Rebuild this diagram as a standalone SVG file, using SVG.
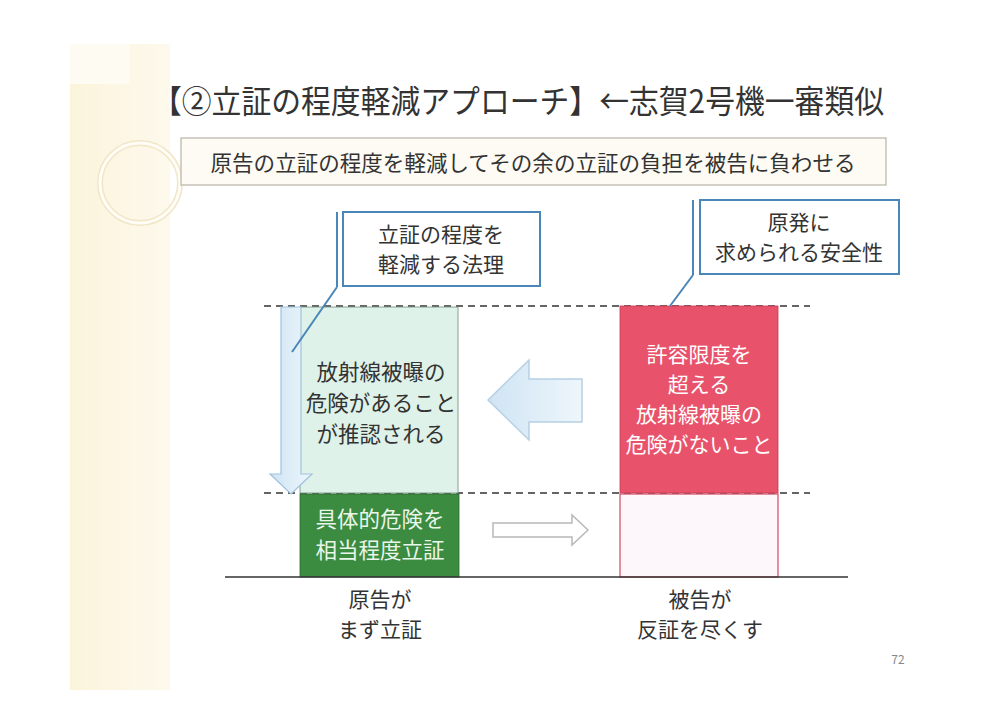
<svg xmlns="http://www.w3.org/2000/svg" width="992" height="705" viewBox="0 0 992 705">
<defs>
<linearGradient id="gBlue" x1="0" y1="0" x2="1" y2="0">
<stop offset="0" stop-color="#cfe4f4"/><stop offset="1" stop-color="#eef6fb"/>
</linearGradient>
<linearGradient id="gBand" x1="0" y1="0" x2="1" y2="0">
<stop offset="0" stop-color="#fbf4dc"/><stop offset="1" stop-color="#fdf9ec"/>
</linearGradient>
<style>
text{font-family:"Noto Sans CJK JP","Noto Sans",sans-serif;text-anchor:middle}
.dk{fill:#333}
.wh{fill:#ffffff}
.dash{stroke:#333;stroke-width:1.6;stroke-dasharray:7 5;fill:none}
.call{fill:#ffffff;stroke:#4a86b8;stroke-width:2}
.lead{stroke:#4a86b8;stroke-width:2;fill:none}
</style>
</defs>
<rect width="992" height="705" fill="#ffffff"/>
<g id="decoration">
<rect x="70" y="44" width="100" height="646" fill="url(#gBand)"/>
<rect x="70" y="44" width="60" height="40" fill="#fdfbf2"/>
<circle cx="140" cy="183" r="40" fill="none" stroke="#f1e6c8" stroke-width="6"/>
<circle cx="140" cy="183" r="40" fill="none" stroke="#fffdf6" stroke-width="3"/>
</g>
<g id="title">
<text x="518" y="113" font-size="32" class="dk" textLength="732" lengthAdjust="spacingAndGlyphs">【②立証の程度軽減アプローチ】←志賀2号機一審類似</text>
</g>
<g id="subtitle">
<rect x="181" y="138" width="705" height="47" fill="#fdfbf3" stroke="#b9b4a8" stroke-width="1.2"/>
<text x="533" y="171" font-size="21.5" class="dk" textLength="645" lengthAdjust="spacingAndGlyphs">原告の立証の程度を軽減してその余の立証の負担を被告に負わせる</text>
</g>
<g id="guides">
<line x1="264" y1="306" x2="810" y2="306" class="dash"/>
<line x1="264" y1="493" x2="810" y2="493" class="dash"/>
</g>
<g id="plaintiff-upper">
<rect x="300" y="307" width="158" height="186" fill="#def2e9" stroke="#6f8a7e" stroke-width="0.8"/>
<text x="381" y="380" font-size="21.5" class="dk">放射線被曝の</text>
<text x="381" y="411" font-size="21.5" class="dk">危険があること</text>
<text x="381" y="442" font-size="21.5" class="dk">が推認される</text>
</g>
<g id="down-arrow">
<path d="M281,307 H301 V474 H312 L291,494 L270,474 H281 Z" fill="url(#gBlue)" stroke="#9fc2de" stroke-width="1.2"/>
</g>
<g id="plaintiff-lower">
<rect x="300" y="494" width="159" height="83" fill="#3b8b40" stroke="#2c6a30" stroke-width="0.8"/>
<text x="380" y="527" font-size="21.5" fill="#eaf6ea">具体的危険を</text>
<text x="380" y="558" font-size="21.5" fill="#eaf6ea">相当程度立証</text>
</g>
<g id="defendant-upper">
<rect x="620" y="306" width="158" height="187" fill="#e8536b" stroke="#c23a52" stroke-width="0.8"/>
<text x="699" y="362" font-size="21" class="wh">許容限度を</text>
<text x="699" y="392" font-size="21" class="wh">超える</text>
<text x="699" y="422" font-size="21" class="wh">放射線被曝の</text>
<text x="699" y="452" font-size="21" class="wh">危険がないこと</text>
</g>
<g id="defendant-lower">
<rect x="620" y="494" width="158" height="83" fill="#fdf6fa" stroke="#d24a63" stroke-width="1.2"/>
</g>
<g id="left-arrow">
<path d="M488,400 L529,360 V379 H582 V422 H529 V440 Z" fill="url(#gBlue)" stroke="#b5d0e5" stroke-width="1.5"/>
</g>
<g id="right-arrow">
<path d="M493,523 H572 V515 L588,530 L572,545 V537 H493 Z" fill="#ffffff" stroke="#b8b8b8" stroke-width="1.5"/>
</g>
<g id="baseline">
<line x1="225" y1="577" x2="848" y2="577" stroke="#333" stroke-width="1.5"/>
</g>
<g id="callout-law">
<rect x="343" y="212" width="197" height="74" class="call"/>
<line x1="337" y1="212" x2="337" y2="287" class="lead"/>
<text x="441" y="242" font-size="21" class="dk">立証の程度を</text>
<text x="441" y="272" font-size="21" class="dk">軽減する法理</text>
</g>
<g id="callout-safety">
<rect x="700" y="200" width="199" height="74" class="call"/>
<line x1="693" y1="200" x2="693" y2="275" class="lead"/>
<text x="799" y="230" font-size="21" class="dk">原発に</text>
<text x="799" y="260" font-size="21" class="dk">求められる安全性</text>
</g>
<g id="connectors">
<line x1="337" y1="287" x2="292" y2="352" class="lead"/>
<line x1="693" y1="275" x2="670" y2="306" class="lead"/>
</g>
<g id="labels">
<text x="380" y="607" font-size="21" class="dk">原告が</text>
<text x="380" y="637" font-size="21" class="dk">まず立証</text>
<text x="700" y="607" font-size="21" class="dk">被告が</text>
<text x="700" y="637" font-size="21" class="dk">反証を尽くす</text>
</g>
<g id="page">
<text x="898" y="664" font-size="12" fill="#888">72</text>
</g>
</svg>
